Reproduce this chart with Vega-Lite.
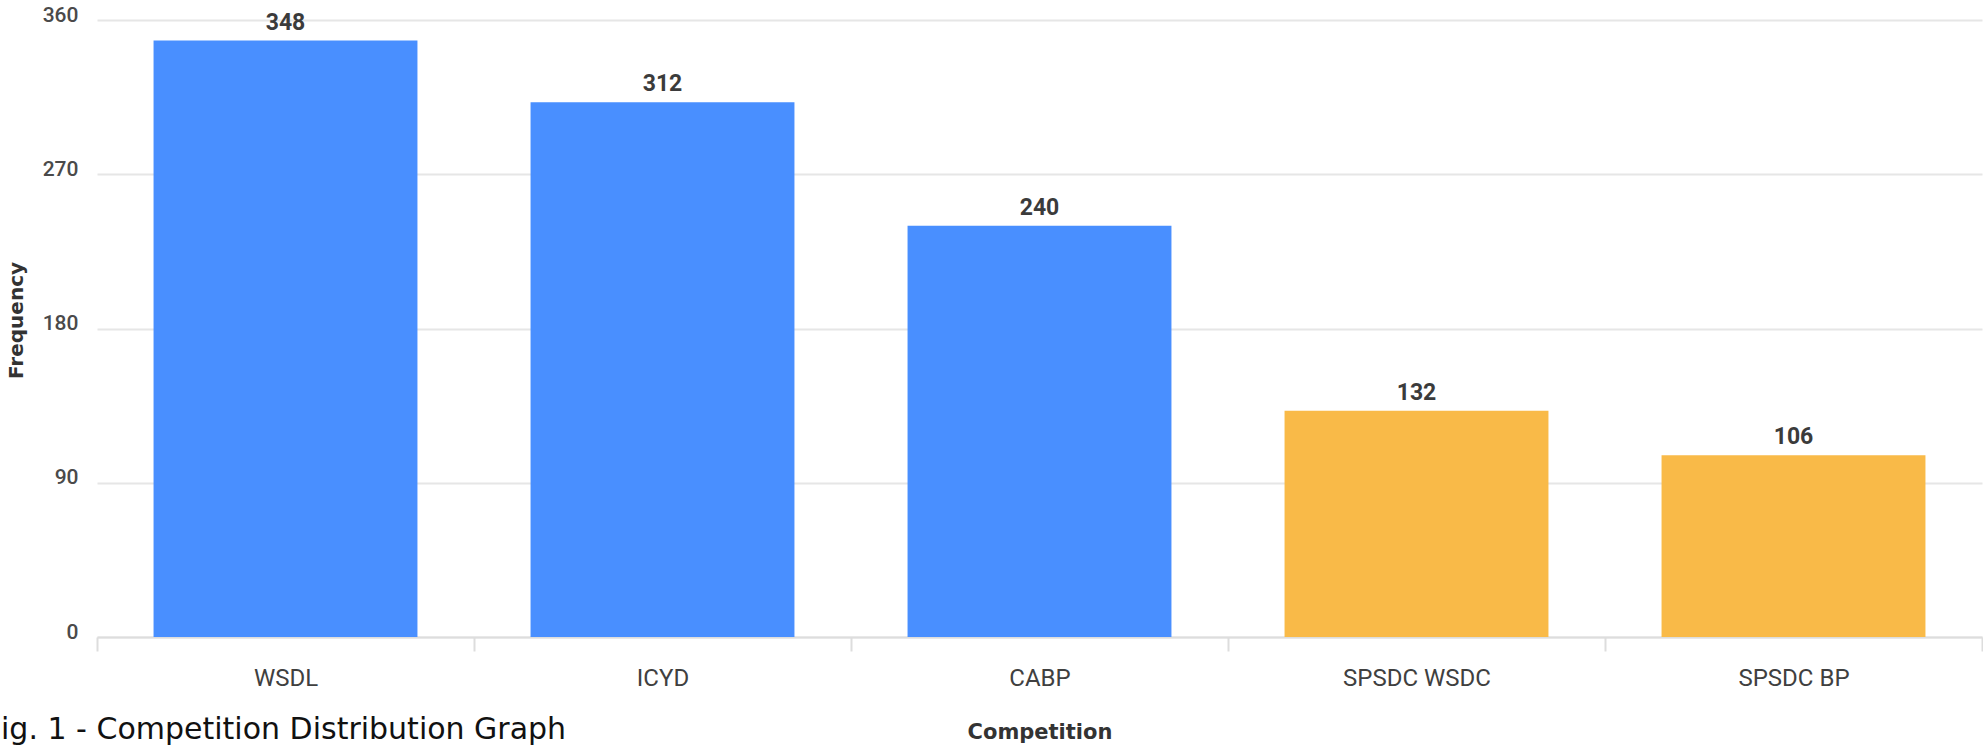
{
  "$schema": "https://vega.github.io/schema/vega-lite/v6.json",
  "width": 1885,
  "height": 617,
  "autosize": {"type": "none"},
  "padding": {"left": 97, "top": 20, "right": 1, "bottom": 111},
  "background": "white",
  "config": {"view": {"stroke": null}, "font": "Roboto"},
  "title": {
    "text": "ig. 1 - Competition Distribution Graph",
    "orient": "bottom",
    "anchor": "start",
    "frame": "group",
    "font": "DejaVu Sans",
    "fontSize": 30,
    "fontWeight": "normal",
    "color": "#111111",
    "baseline": "alphabetic",
    "dx": -96,
    "dy": -3,
    "offset": 0
  },
  "data": {
    "values": [
      {"competition": "WSDL", "frequency": 348, "group": "A"},
      {"competition": "ICYD", "frequency": 312, "group": "A"},
      {"competition": "CABP", "frequency": 240, "group": "A"},
      {"competition": "SPSDC WSDC", "frequency": 132, "group": "B"},
      {"competition": "SPSDC BP", "frequency": 106, "group": "B"}
    ]
  },
  "encoding": {
    "x": {
      "field": "competition",
      "type": "nominal",
      "sort": null,
      "scale": {"paddingInner": 0, "paddingOuter": 0},
      "axis": {
        "title": "Competition",
        "titleFont": "DejaVu Sans",
        "titleFontSize": 21,
        "titleFontWeight": "bold",
        "titleColor": "#333333",
        "titleBaseline": "alphabetic",
        "titleY": 101,
        "labelAngle": 0,
        "labelFontSize": 24,
        "labelColor": "#404040",
        "labelBaseline": "middle",
        "labelPadding": 27,
        "tickSize": 14,
        "tickColor": "#dddddd",
        "tickWidth": 2,
        "tickBand": "extent",
        "domainColor": "#dddddd",
        "domainWidth": 2,
        "grid": false
      }
    },
    "y": {
      "field": "frequency",
      "type": "quantitative",
      "scale": {"domain": [0, 360], "nice": false},
      "axis": {
        "title": "Frequency",
        "values": [0, 90, 180, 270, 360],
        "grid": true,
        "gridColor": "#e6e6e6",
        "gridWidth": 2,
        "domain": false,
        "ticks": false,
        "labelPadding": 19,
        "labelFontSize": 21,
        "labelFontWeight": 500,
        "labelColor": "#4a4a4a",
        "labelOffset": -5,
        "titleX": -75,
        "titleY": 300,
        "titleAngle": -90,
        "titleBaseline": "alphabetic",
        "titleFont": "DejaVu Sans",
        "titleFontSize": 20,
        "titleFontWeight": "bold",
        "titleColor": "#333333"
      }
    }
  },
  "layer": [
    {
      "mark": {"type": "bar", "width": {"band": 0.7}},
      "encoding": {
        "color": {
          "field": "group",
          "type": "nominal",
          "scale": {"domain": ["A", "B"], "range": ["#498FFF", "#F9BA48"]},
          "legend": null
        }
      }
    },
    {
      "mark": {"type": "text", "dy": -11, "baseline": "alphabetic", "fontSize": 23, "fontWeight": "bold", "color": "#3b3b3b"},
      "encoding": {"text": {"field": "frequency", "type": "quantitative"}}
    }
  ]
}
